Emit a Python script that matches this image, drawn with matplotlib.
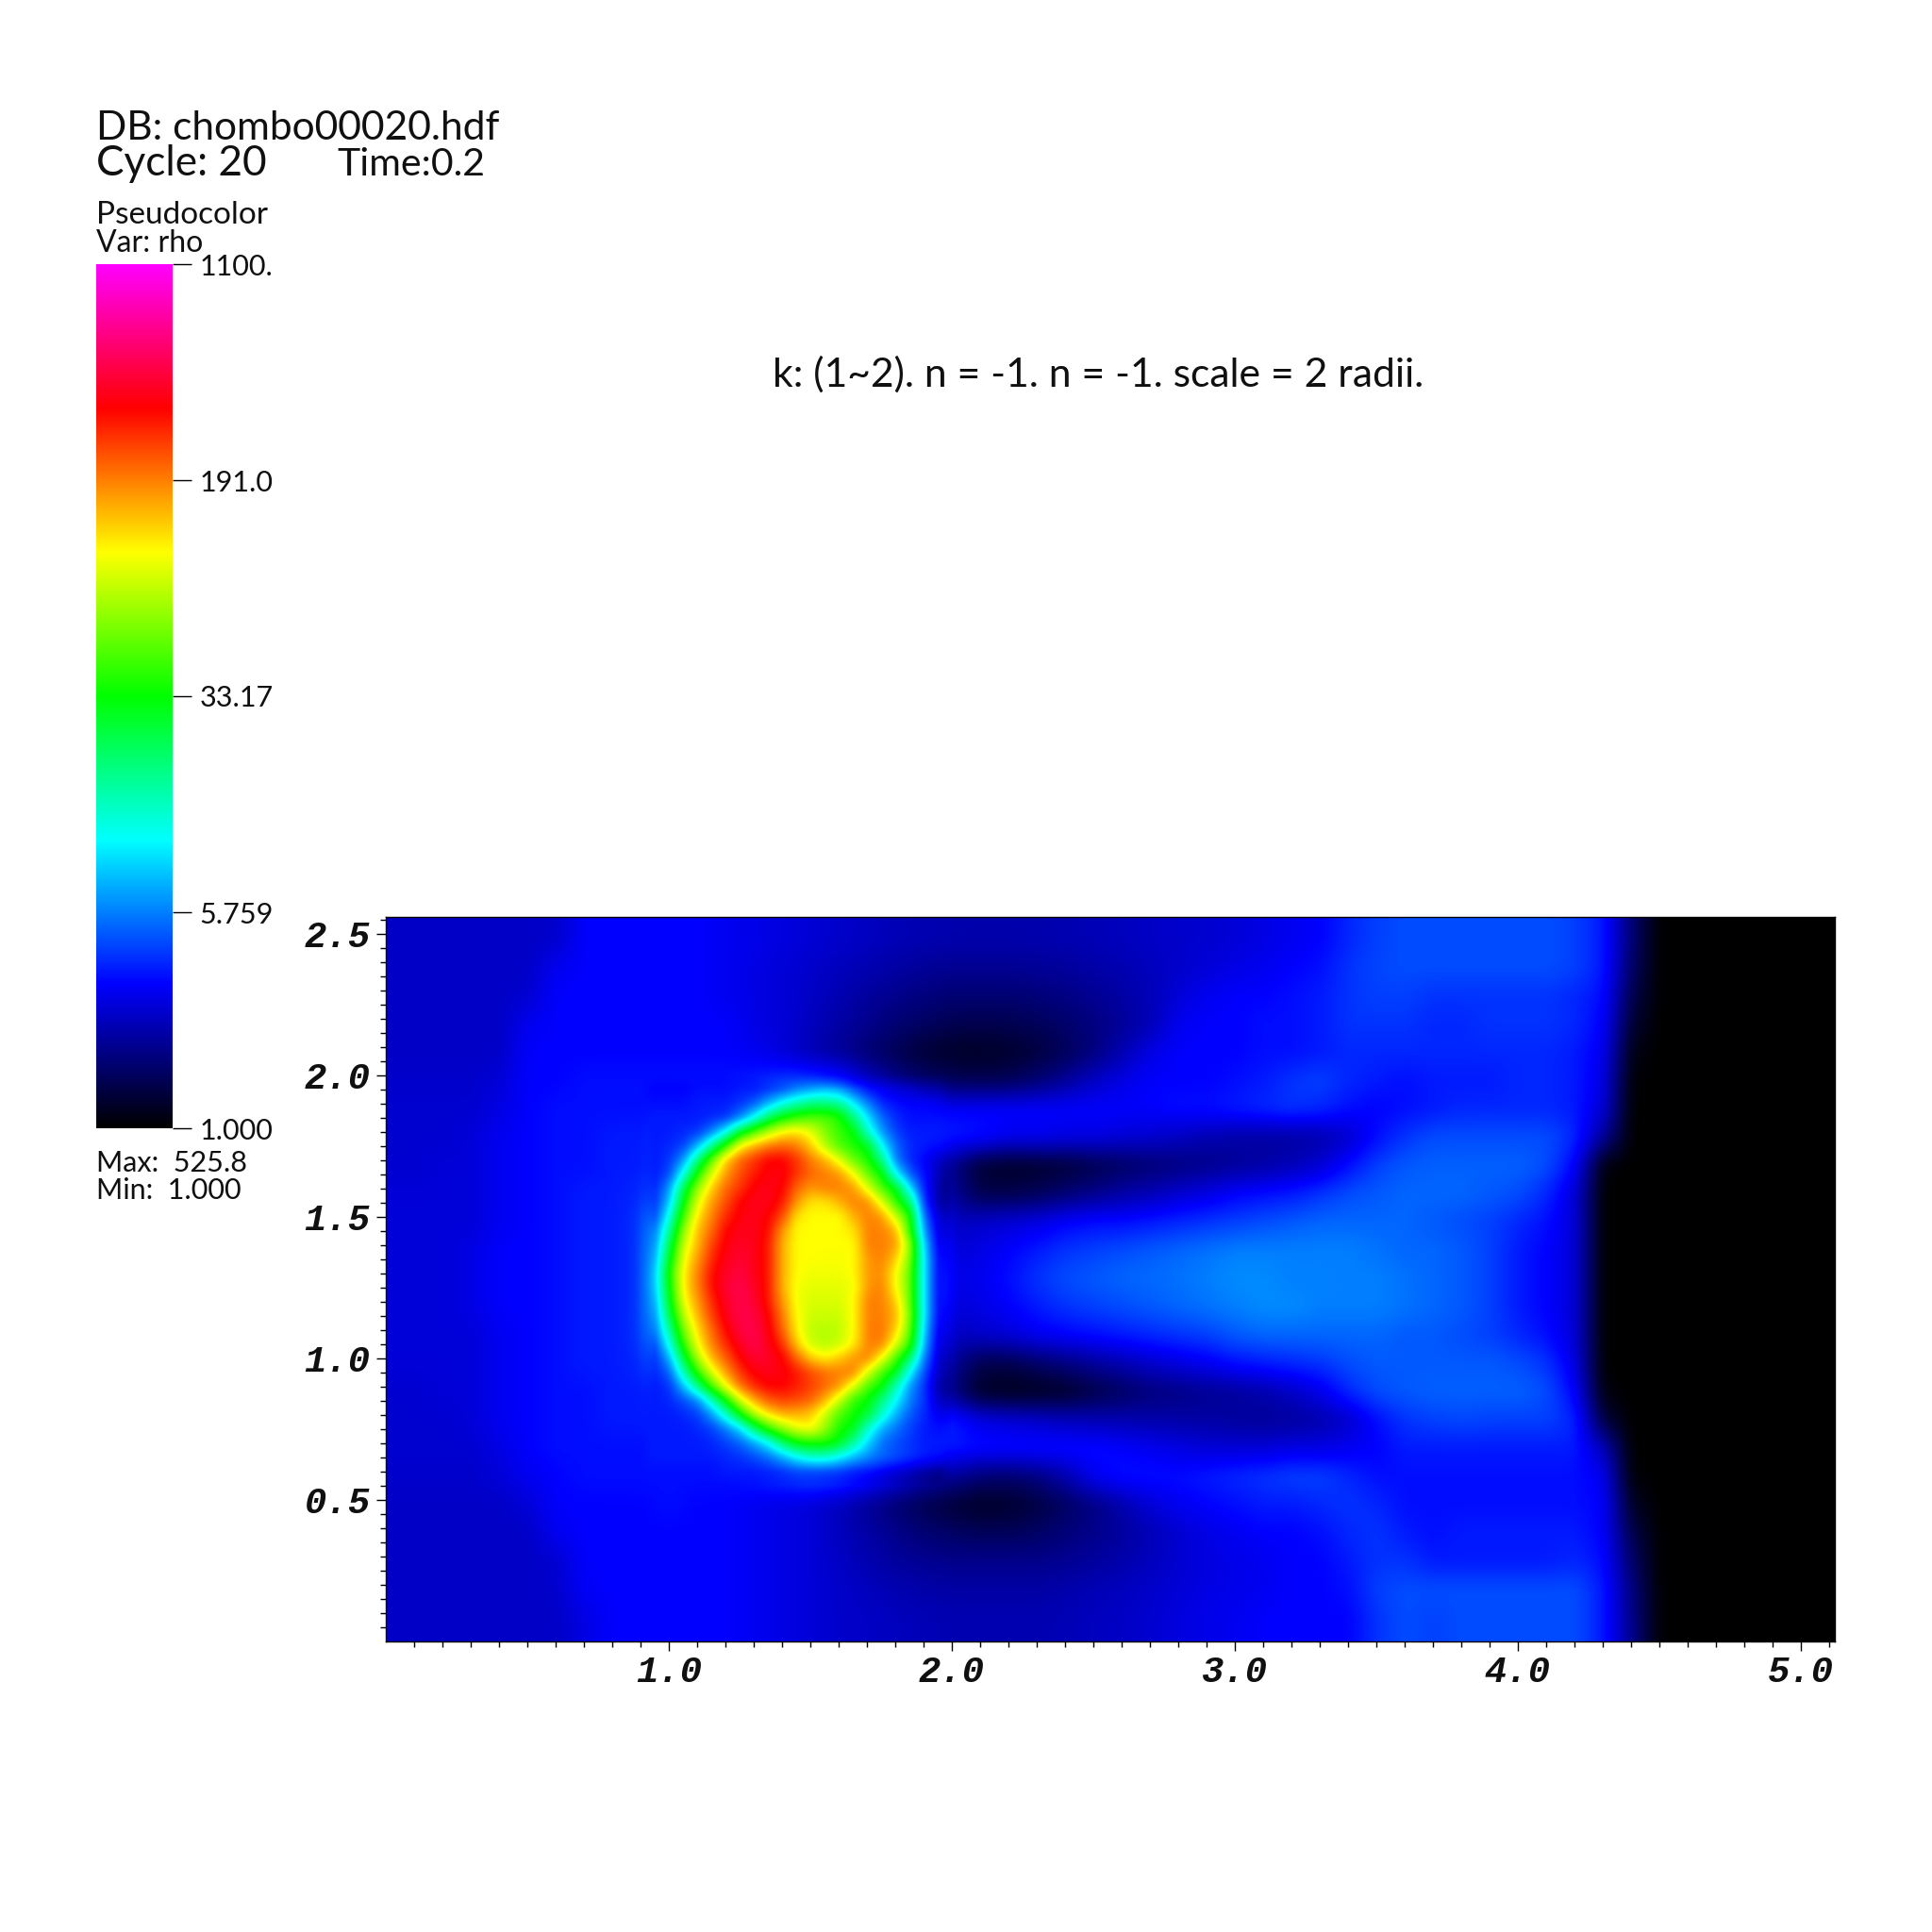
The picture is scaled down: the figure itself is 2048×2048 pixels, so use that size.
import numpy as np
import matplotlib
matplotlib.use("Agg")
import matplotlib.pyplot as plt
from matplotlib.colors import LinearSegmentedColormap, LogNorm

# Field values are colour-table levels:
# 0 black, 1 blue, 2 cyan, 3 green, 4 yellow, 5 red, 6 magenta (rho = 1100**(level/6))
coarse_y = [2.48,2.38,2.28,2.18,2.08,1.98,1.88,1.78,1.68,1.58,1.48,1.38,1.28,1.18,1.08,.98,.88,.78,.68,.58,.48,.38,.28,.18,.08]
coarse_x = [i/10 for i in range(46)]
coarse_levels = [
 [.78,.78,.78,.78,.78,.78,.80,1.0,1.0,1.0, 1.0,1.0,.95,.92,.88,.84,.8,.76,.72,.7, .68,.68,.68,.68,.7,.72,.75,.78,.8,.82, .85,.9,.95,1.0,1.15,1.25,1.3,1.3,1.3,1.3, 1.3,1.3,1.25,1.1,.45,0],
 [.78,.78,.78,.78,.78,.78,.95,1.0,1.0,1.0, 1.0,1.0,.95,.9,.85,.8,.75,.7,.65,.6, .58,.58,.58,.6,.62,.66,.7,.75,.8,.85, .9,.95,1.0,1.05,1.2,1.27,1.3,1.3,1.3,1.3, 1.3,1.3,1.25,1.1,.4,0],
 [.78,.78,.78,.78,.78,.82,1.0,1.0,1.0,1.0, 1.0,1.0,.95,.9,.85,.78,.7,.62,.55,.5, .45,.45,.45,.48,.52,.58,.65,.72,.85,.95, 1.0,1.0,1.05,1.1,1.2,1.25,1.25,1.2,1.2,1.2, 1.2,1.2,1.15,1.05,.3,0],
 [.78,.78,.78,.78,.78,.95,1.0,1.0,1.0,1.0, 1.0,1.0,1.0,.9,.85,.75,.65,.55,.45,.38, .32,.3,.32,.35,.42,.5,.6,.72,.95,1.0, 1.0,1.05,1.05,1.1,1.2,1.2,1.2,1.15,1.15,1.2, 1.2,1.2,1.15,1.0,.2,0],
 [.78,.78,.78,.78,.78,1.0,1.0,1.0,1.0,1.0, 1.0,1.0,1.0,.95,.85,.72,.6,.45,.33,.22, .16,.15,.18,.25,.35,.5,.7,.9,1.0,1.0, 1.0,1.05,1.05,1.1,1.15,1.15,1.15,1.15,1.15,1.15, 1.15,1.15,1.1,.95,.08,0],
 [.8,.8,.8,.8,.85,1.0,1.0,1.05,1.05,1.05, 1.05,1.05,1.05,1.1,1.2,1.2,1.1,.8,.55,.42, .35,.32,.35,.45,.6,.78,.9,1.0,1.0,1.0, 1.05,1.1,1.2,1.25,1.15,1.1,1.05,1.1,1.1,1.1, 1.15,1.15,1.1,.9,.02,0],
 [.82,.82,.82,.82,.9,1.0,1.05,1.05,1.05,1.05, 1.05,1.1,1.1,1.5,2.2,2.3,1.5,1.1,1.0,1.0, 1.0,1.0,1.0,1.0,1.0,1.0,1.0,1.0,1.05,1.05, 1.1,1.15,1.2,1.15,1.05,1.0,1.05,1.1,1.15,1.15, 1.15,1.15,1.1,.85,0,0],
 [.82,.82,.82,.85,.95,1.0,1.05,1.05,1.1,1.1, 1.2,1.5,2.5,3.5,4.0,3.5,3.0,1.6,1.1,1.1, 1.1,1.05,.95,.95,.9,.9,.85,.82,.76,.7, .66,.64,.64,.68,.8,1.05,1.2,1.3,1.3,1.3, 1.3,1.3,1.15,.6,0,0],
 [.82,.82,.85,.85,.95,1.0,1.05,1.05,1.1,1.1, 1.3,3.0,4.3,4.7,5.0,4.7,4.3,3.4,1.5,1.0, .55,.2,.15,.18,.22,.3,.38,.45,.5,.55, .6,.65,.72,.82,1.05,1.25,1.35,1.38,1.38,1.38, 1.38,1.3,1.0,.05,0,0],
 [.85,.85,.85,.85,.95,1.0,1.05,1.1,1.1,1.15, 1.6,3.9,4.7,5.0,4.9,4.3,4.5,4.4,3.2,1.1, .6,.3,.3,.35,.45,.55,.65,.72,.82,.9, 1.0,1.05,1.1,1.2,1.3,1.35,1.4,1.4,1.4,1.35, 1.3,1.15,.85,0,0,0],
 [.85,.85,.85,.85,.95,1.0,1.05,1.1,1.1,1.2, 2.4,4.2,4.9,5.1,4.4,4.0,4.0,4.5,4.3,1.6, .75,.8,.85,.9,1.0,1.05,1.05,1.1,1.15,1.2, 1.25,1.3,1.35,1.4,1.4,1.4,1.4,1.35,1.3,1.25, 1.15,1.05,.85,0,0,0],
 [.85,.85,.85,.9,1.0,1.0,1.05,1.1,1.1,1.2, 2.8,4.3,5.05,5.1,4.3,4.0,3.98,4.4,4.2,1.9, .85,.9,1.0,1.1,1.2,1.25,1.3,1.35,1.4,1.45, 1.5,1.5,1.5,1.5,1.5,1.45,1.4,1.4,1.35,1.25, 1.1,1.0,.85,0,0,0],
 [.85,.85,.85,.9,1.0,1.0,1.05,1.1,1.1,1.2, 3.0,4.3,5.1,5.2,4.3,3.95,3.95,4.4,4.0,1.9, .9,.95,1.05,1.2,1.3,1.35,1.4,1.42,1.45,1.5, 1.55,1.55,1.5,1.5,1.5,1.5,1.45,1.4,1.35,1.25, 1.1,1.0,.85,0,0,0],
 [.85,.85,.85,.9,1.0,1.0,1.05,1.1,1.1,1.2, 2.9,4.3,5.1,5.2,4.4,3.85,3.85,4.5,4.2,1.9, .85,.9,1.0,1.1,1.2,1.25,1.3,1.35,1.4,1.45, 1.5,1.55,1.55,1.5,1.5,1.5,1.45,1.4,1.35,1.25, 1.1,1.0,.85,0,0,0],
 [.85,.85,.85,.85,.95,1.0,1.05,1.1,1.1,1.2, 2.4,4.1,4.9,5.3,4.6,3.75,3.75,4.5,4.2,1.8, .75,.8,.85,.95,1.0,1.05,1.1,1.15,1.2,1.25, 1.35,1.4,1.4,1.4,1.4,1.4,1.35,1.35,1.3,1.25, 1.15,1.05,.85,0,0,0],
 [.85,.85,.85,.85,.95,1.0,1.05,1.1,1.1,1.15, 1.7,3.7,4.5,5.15,5.0,4.2,4.2,4.5,3.3,1.5, .6,.3,.3,.4,.5,.6,.7,.8,.88,.95, 1.05,1.1,1.15,1.2,1.3,1.35,1.35,1.35,1.35,1.35, 1.3,1.2,.9,0,0,0],
 [.82,.82,.85,.85,.95,1.0,1.05,1.05,1.1,1.1, 1.2,2.5,3.95,4.8,5.0,4.75,4.4,3.3,2.3,1.2, .5,.15,.1,.12,.16,.28,.38,.48,.52,.58, .62,.68,.78,.92,1.15,1.3,1.35,1.38,1.38,1.38, 1.38,1.3,1.0,.05,0,0],
 [.82,.82,.82,.85,.95,1.0,1.05,1.05,1.1,1.1, 1.1,1.25,2.2,3.7,4.3,4.2,3.3,2.8,1.7,1.15, 1.1,.9,.85,.8,.75,.72,.7,.68,.66,.65, .62,.6,.62,.68,.8,1.05,1.2,1.25,1.28,1.25, 1.25,1.25,1.15,.25,0,0],
 [.82,.82,.82,.82,.9,1.0,1.05,1.05,1.05,1.05, 1.1,1.1,1.15,1.3,1.7,2.2,2.0,1.55,1.3,1.1, 1.1,1.05,1.05,1.05,1.05,1.05,1.0,.95,.9,.85, .85,.85,.9,.9,.95,1.0,1.1,1.1,1.1,1.1, 1.1,1.1,1.1,.75,0,0],
 [.8,.8,.8,.8,.85,.95,1.0,1.05,1.05,1.05, 1.05,1.05,1.05,1.1,1.2,1.3,1.25,1.1,.9,.7, .6,.45,.42,.5,.68,.95,1.05,1.05,1.05,1.1, 1.15,1.2,1.25,1.25,1.15,1.05,1.05,1.05,1.05,1.05, 1.05,1.05,1.05,.95,.03,0],
 [.78,.78,.78,.78,.78,.85,1.0,1.0,1.0,1.0, 1.05,1.0,1.0,.95,.9,.85,.75,.6,.45,.32, .22,.15,.18,.26,.38,.52,.68,.85,.95,1.0, 1.05,1.1,1.1,1.15,1.2,1.15,1.05,1.05,1.05,1.05, 1.05,1.05,1.05,1.0,.15,0],
 [.78,.78,.78,.78,.78,.78,.95,1.0,1.0,1.0, 1.0,1.0,1.0,.95,.9,.85,.75,.65,.55,.45, .4,.36,.36,.4,.48,.55,.62,.72,.82,.9, .95,1.0,1.0,1.05,1.15,1.2,1.1,1.05,1.1,1.1, 1.1,1.1,1.1,1.0,.3,0],
 [.78,.78,.78,.78,.78,.78,.82,1.0,1.0,1.0, 1.0,1.0,1.0,.95,.9,.85,.78,.7,.62,.58, .55,.55,.55,.55,.58,.62,.68,.75,.82,.88, .92,.95,1.0,1.0,1.1,1.2,1.2,1.1,1.1,1.1, 1.1,1.1,1.15,1.05,.42,0],
 [.78,.78,.78,.78,.78,.78,.8,.98,1.0,1.0, 1.0,1.0,1.0,.95,.9,.85,.8,.75,.7,.67, .65,.65,.65,.65,.68,.72,.75,.8,.85,.9, .92,.95,1.0,1.0,1.05,1.25,1.3,1.3,1.3,1.3, 1.3,1.3,1.3,1.1,.5,0],
 [.78,.78,.78,.78,.78,.78,.78,.9,1.0,1.0, 1.0,1.0,1.0,.95,.9,.85,.8,.78,.75,.72, .7,.7,.7,.7,.72,.75,.78,.82,.88,.92, .95,1.0,1.0,1.0,1.0,1.2,1.3,1.25,1.3,1.3, 1.3,1.3,1.3,1.1,.55,0],
]

blob_x = [.90+.05*i for i in range(23)]
blob_y = [2.00-.05*i for i in range(30)]
blob_levels = [
 [1.0,1.0,1.0,1.0,1.0,1.0,1.0,1.0,1.0,1.05,1.1,1.15,1.2,1.2,1.15,1.0,.9,.8,.7,.6,.5,.45,.4],
 [1.0,1.0,1.0,1.0,1.05,1.05,1.05,1.1,1.1,1.2,1.3,1.5,1.6,1.7,1.6,1.3,1.05,.95,.85,.8,.7,.65,.6],
 [1.05,1.05,1.05,1.05,1.1,1.1,1.1,1.2,1.35,1.7,2.05,2.3,2.5,2.5,2.4,1.95,1.5,1.15,1.05,1.0,1.0,.95,.9],
 [1.1,1.1,1.1,1.1,1.1,1.15,1.2,1.5,2.0,2.6,3.0,3.2,3.3,3.3,3.1,2.5,1.9,1.4,1.15,1.05,1.05,1.05,1.05],
 [1.1,1.1,1.1,1.15,1.2,1.5,2.0,2.8,3.3,3.7,4.0,4.1,3.9,3.5,3.2,3.0,2.2,1.6,1.25,1.1,1.1,1.1,1.1],
 [1.1,1.1,1.15,1.25,1.7,2.4,3.2,4.0,4.3,4.5,4.6,4.5,4.2,3.7,3.3,3.1,2.9,2.0,1.4,1.15,1.1,1.05,1.0],
 [1.1,1.1,1.2,1.6,2.5,3.4,4.2,4.6,4.8,5.0,5.0,4.8,4.5,4.3,3.9,3.4,3.1,2.5,1.5,1.15,1.0,.8,.6],
 [1.1,1.1,1.3,2.1,3.1,3.9,4.4,4.7,4.9,5.05,5.05,4.8,4.6,4.5,4.4,4.0,3.4,3.0,2.0,1.35,1.05,.75,.35],
 [1.1,1.15,1.6,2.7,3.6,4.2,4.6,4.8,5.05,5.1,5.0,4.6,4.4,4.5,4.5,4.4,3.9,3.3,2.9,1.9,1.1,.7,.2],
 [1.1,1.2,1.8,3.0,3.9,4.4,4.7,5.0,5.1,5.1,4.9,4.4,4.1,4.1,4.3,4.5,4.45,3.9,3.2,2.6,1.2,.7,.2],
 [1.1,1.3,2.1,3.3,4.1,4.5,4.85,5.05,5.1,5.0,4.7,4.1,4.0,4.0,4.0,4.3,4.5,4.4,3.8,3.1,1.4,.85,.45],
 [1.1,1.5,2.4,3.6,4.25,4.6,5.0,5.1,5.1,4.95,4.4,4.0,4.0,4.0,4.0,4.1,4.5,4.5,4.3,3.2,1.6,.9,.55],
 [1.1,1.6,2.7,3.8,4.3,4.75,5.05,5.15,5.1,4.9,4.3,4.0,4.0,4.0,4.0,4.0,4.5,4.5,4.4,3.6,1.8,.95,.65],
 [1.1,1.7,2.9,3.95,4.4,4.85,5.1,5.2,5.1,4.9,4.3,4.0,4.0,3.98,3.98,4.0,4.4,4.5,4.2,3.5,1.9,1.0,.75],
 [1.1,1.8,3.1,4.05,4.5,4.95,5.15,5.25,5.1,4.9,4.3,4.0,3.95,3.95,3.95,4.0,4.4,4.45,4.0,3.4,1.9,1.0,.85],
 [1.1,1.8,3.0,4.05,4.5,4.95,5.2,5.3,5.15,4.9,4.3,3.95,3.9,3.9,3.9,3.95,4.4,4.5,4.0,3.4,1.9,1.0,.9],
 [1.1,1.7,2.9,3.95,4.4,4.85,5.15,5.3,5.2,4.9,4.4,3.95,3.85,3.85,3.85,4.0,4.5,4.5,4.2,3.4,1.9,1.0,.85],
 [1.1,1.6,2.7,3.75,4.3,4.75,5.1,5.3,5.25,5.0,4.5,4.0,3.8,3.8,3.8,4.0,4.5,4.5,4.3,3.5,1.9,1.0,.75],
 [1.1,1.5,2.4,3.5,4.15,4.6,5.0,5.25,5.3,5.05,4.6,4.05,3.75,3.7,3.75,4.0,4.5,4.55,4.2,3.4,1.8,.95,.65],
 [1.1,1.3,2.1,3.2,4.0,4.5,4.85,5.15,5.3,5.1,4.8,4.2,3.8,3.7,3.8,4.05,4.5,4.5,3.9,3.2,1.7,.9,.55],
 [1.1,1.2,1.7,2.8,3.7,4.3,4.65,5.0,5.2,5.15,5.0,4.6,4.2,4.05,4.2,4.4,4.5,4.0,3.3,2.6,1.5,.85,.4],
 [1.1,1.15,1.4,2.3,3.2,3.9,4.4,4.8,5.05,5.1,5.05,4.9,4.7,4.55,4.5,4.5,3.9,3.3,2.9,2.0,1.3,.8,.3],
 [1.1,1.1,1.2,1.75,2.5,3.3,4.0,4.55,4.85,5.0,5.0,4.9,4.75,4.6,4.4,3.9,3.3,3.0,2.3,1.6,1.2,.7,.25],
 [1.1,1.1,1.15,1.3,1.55,2.25,3.05,3.85,4.35,4.65,4.75,4.7,4.6,4.3,3.8,3.2,3.0,2.5,2.0,1.5,1.2,.8,.45],
 [1.1,1.1,1.1,1.15,1.25,1.6,2.2,3.0,3.7,4.1,4.3,4.3,4.2,3.8,3.3,3.05,2.8,2.2,1.7,1.35,1.15,.95,.8],
 [1.1,1.1,1.1,1.1,1.15,1.25,1.5,1.85,2.6,3.2,3.6,3.9,4.0,3.6,3.1,2.9,2.2,1.7,1.45,1.25,1.1,1.05,1.0],
 [1.1,1.1,1.1,1.1,1.1,1.15,1.25,1.4,1.65,2.0,2.6,3.0,3.1,3.1,2.9,2.4,1.85,1.45,1.3,1.2,1.1,1.1,1.1],
 [1.1,1.1,1.1,1.1,1.1,1.1,1.15,1.2,1.3,1.45,1.7,2.0,2.2,2.2,2.0,1.75,1.55,1.4,1.3,1.2,1.1,1.05,1.0],
 [1.05,1.05,1.05,1.05,1.05,1.05,1.1,1.1,1.1,1.15,1.2,1.3,1.3,1.3,1.25,1.15,1.1,1.0,.9,.8,.7,.6,.55],
 [1.05,1.05,1.05,1.05,1.05,1.05,1.05,1.05,1.0,1.0,1.0,1.0,.95,.9,.85,.8,.7,.6,.5,.4,.3,.25,.2],
]

color_stops = ["#000000", "#0000ff", "#00ffff", "#00ff00", "#ffff00", "#ff0000", "#ff00ff"]
rho_min, rho_max = 1.0, 1100.0
bar_ticks = [1100.0, 191.0, 33.17, 5.759, 1.0]
bar_labels = ["1100.", "191.0", "33.17", "5.759", "1.000"]
x_major = [1.0, 2.0, 3.0, 4.0, 5.0]
y_major = [0.5, 1.0, 1.5, 2.0, 2.5]
FONT = "Lato"
TICKFONT = "Liberation Mono"
W = H = 2048


def resample(levels, xs, ys, gx, gy):
    a = np.asarray(levels, float)
    xs = np.asarray(xs); ys = np.asarray(ys)
    o = np.argsort(ys); a = a[o]; ys = ys[o]
    a = np.array([np.interp(gx, xs, row) for row in a])
    return np.array([np.interp(gy, ys, col) for col in a.T]).T


def smooth(a, sigma):
    r = int(3 * sigma) + 1
    k = np.exp(-0.5 * (np.arange(-r, r + 1) / sigma) ** 2); k /= k.sum()
    a = np.pad(a, r, mode="edge")
    a = np.apply_along_axis(lambda v: np.convolve(v, k, "same"), 0, a)
    a = np.apply_along_axis(lambda v: np.convolve(v, k, "same"), 1, a)
    return a[r:-r, r:-r]


gx = np.arange(0, 5.12, 0.005)
gy = np.arange(0, 2.56, 0.005)
cx = list(coarse_x) + [5.12]
cl = [row + [0] for row in coarse_levels]
base = smooth(resample(cl, cx, coarse_y, gx, gy), 5)
patch = smooth(resample(blob_levels, blob_x, blob_y, gx, gy), 3)
wx = np.clip(np.minimum(gx - 0.90, 2.00 - gx) / 0.05, 0, 1)
wy = np.clip(np.minimum(gy - 0.55, 2.00 - gy) / 0.05, 0, 1)
w = np.outer(wy, wx)
levels = base * (1 - w) + patch * w
rho = rho_max ** (np.clip(levels, 0, 6) / 6)

cmap = LinearSegmentedColormap.from_list("visit", color_stops, N=1024)
norm = LogNorm(rho_min, rho_max)

fig = plt.figure(figsize=(20.48, 20.48), dpi=100, facecolor="white")


def axpx(l, t, r, b):
    return fig.add_axes([l / W, 1 - b / H, (r - l) / W, (b - t) / H])


def tx(x, y, s, size, **kw):
    kw.setdefault("family", FONT)
    kw.setdefault("va", "center")
    fig.text(x / W, 1 - y / H, s, fontsize=size, color="#101010", **kw)


ax = axpx(409, 972, 1945, 1740)
ax.imshow(rho, origin="lower", extent=[0, 5.12, 0, 2.56], cmap=cmap, norm=norm,
          aspect="auto", interpolation="bilinear")
ax.set_xlim(0, 5.12); ax.set_ylim(0, 2.56)
ax.set_xticks(x_major); ax.set_yticks(y_major)
ax.set_xticks(np.arange(0.1, 5.12, 0.1), minor=True)
ax.set_yticks(np.arange(0.05, 2.56, 0.05), minor=True)
ax.tick_params(which="major", length=7.2, width=1.0, direction="out", color="black")
ax.tick_params(which="minor", length=4, width=1.0, direction="out", color="black")
ax.tick_params(axis="x", which="major", pad=3.6)
ax.tick_params(axis="y", which="major", pad=4.6)
ax.set_xticklabels([f"{v:.1f}" for v in x_major])
ax.set_yticklabels([f"{v:.1f}" for v in y_major])
for lab in ax.get_xticklabels() + ax.get_yticklabels():
    lab.set_family(TICKFONT); lab.set_weight("bold"); lab.set_style("italic")
    lab.set_fontsize(28); lab.set_color("#101010")
for s in ax.spines.values():
    s.set_linewidth(1.0)

cb = axpx(102, 280, 183, 1196)
grad = np.logspace(np.log10(rho_max), np.log10(rho_min), 1024)[:, None]
cb.imshow(grad, cmap=cmap, norm=norm, aspect="auto", interpolation="bilinear",
          extent=[0, 1, np.log(rho_min), np.log(rho_max)])
cb.set_xticks([])
cb.yaxis.tick_right()
cb.set_yticks(np.log(bar_ticks))
cb.set_yticklabels(bar_labels)
cb.tick_params(axis="y", length=14.4, width=1.0, pad=6, color="black")
for lab in cb.get_yticklabels():
    lab.set_family(FONT); lab.set_fontsize(22); lab.set_color("#101010")
for s in cb.spines.values():
    s.set_visible(False)

tx(102, 136, "DB: chombo00020.hdf", 30.6)
tx(102, 174, "Cycle: 20", 31.8)
tx(357, 174, "Time:0.2", 29.5)
tx(102, 228, "Pseudocolor", 24)
tx(102, 258, "Var: rho", 23)
tx(102, 1233, "Max:  525.8", 22)
tx(102, 1262, "Min:  1.000", 22)
tx(1164, 397, "k: (1~2). n = -1. n = -1. scale = 2 radii.", 30.7, ha="center")

fig.savefig("out.png", dpi=100, facecolor="white")
